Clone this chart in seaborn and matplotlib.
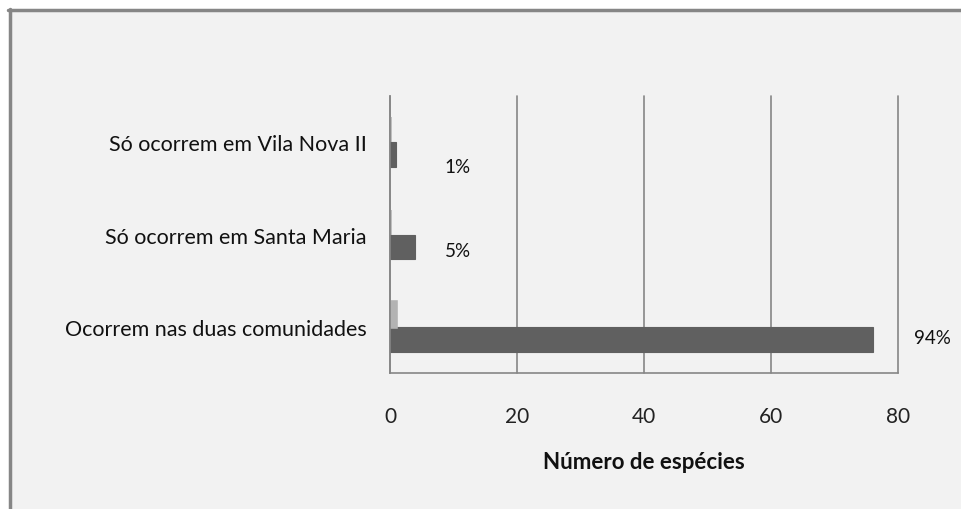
import matplotlib
matplotlib.use("Agg")
import matplotlib.pyplot as plt
import seaborn as sns
import pandas as pd
from matplotlib.lines import Line2D
from matplotlib.patches import Rectangle
from matplotlib.colors import to_hex

categories = ["Só ocorrem em Vila Nova II", "Só ocorrem em Santa Maria", "Ocorrem nas duas comunidades"]
fractions = [0.01, 0.05, 0.94]
counts = [1, 4, 76]
pct_labels = ["1%", "5%", "94%"]
xticks = [0, 20, 40, 60, 80]

df = pd.DataFrame({
    "categoria": categories * 2,
    "valor": fractions + counts,
    "serie": ["Proporção"] * 3 + ["Número"] * 3,
})

LIGHT, DARK = "#b3b3b3", "#606060"

sns.set_theme(style="white")
plt.rcParams["font.family"] = ["Lato", "DejaVu Sans"]

fig = plt.figure(figsize=(9.61, 5.10), dpi=100)
fig.patch.set_facecolor("white")
W, H = 961, 510
fig.add_artist(Rectangle((9 / W, 0), 1, (H - 11) / H, transform=fig.transFigure,
                         facecolor="#f2f2f2", edgecolor="none", zorder=-10))
fig.add_artist(Line2D([9.5 / W, 9.5 / W], [0, (H - 10) / H], transform=fig.transFigure,
                      color="#868686", lw=2.5))
fig.add_artist(Line2D([8 / W, 1], [(H - 11) / H, (H - 11) / H], transform=fig.transFigure,
                      color="#868686", lw=2.5))

ax = fig.add_axes([390 / W, 136 / H, 508 / W, 277 / H])
ax.set_facecolor("none")
sns.barplot(data=df, y="categoria", x="valor", hue="serie", orient="h",
            palette=[LIGHT, DARK], width=0.54, gap=0,
            order=categories, legend=False, ax=ax, saturation=1)
for p in ax.patches:
    fc = p.get_facecolor()
    p.set_edgecolor(fc)
    if to_hex(fc) == LIGHT:
        p.set_linewidth(2.6)
        p.set_zorder(5)
    else:
        p.set_linewidth(0.8)

ax.set_xlim(0, 80)
ax.set_xticks(xticks)
ax.set_xticklabels([str(t) for t in xticks])
ax.xaxis.grid(True, color="#868686", lw=1.2)
for gl in ax.get_xgridlines():
    gl.set_clip_on(False)
ax.set_axisbelow(True)
for s in ["top", "right"]:
    ax.spines[s].set_visible(False)
ax.spines["left"].set_color("#868686")
ax.spines["bottom"].set_color("#868686")
ax.spines["left"].set_linewidth(1.2)
ax.spines["bottom"].set_linewidth(1.2)
ax.spines["left"].set_zorder(6)
ax.tick_params(axis="x", direction="out", length=7, color="#868686", width=1.2,
               labelsize=15, labelcolor="#222222", pad=17)
ax.tick_params(axis="y", length=0, labelsize=15.5, labelcolor="#111111", pad=17)
ax.set_ylabel("")
ax.set_xlabel("Número de espécies", fontsize=16, fontweight="bold", labelpad=18, color="#111111")

label_pos = [(10.7, 0.26), (10.7, 0.17), (85.5, 0.12)]
for i, (lab, (xx, dy)) in enumerate(zip(pct_labels, label_pos)):
    ax.text(xx, i + dy, lab, fontsize=13.5, color="#111111", ha="center", va="center",
            clip_on=False)

fig.savefig("out.png", dpi=100, facecolor=fig.get_facecolor())
